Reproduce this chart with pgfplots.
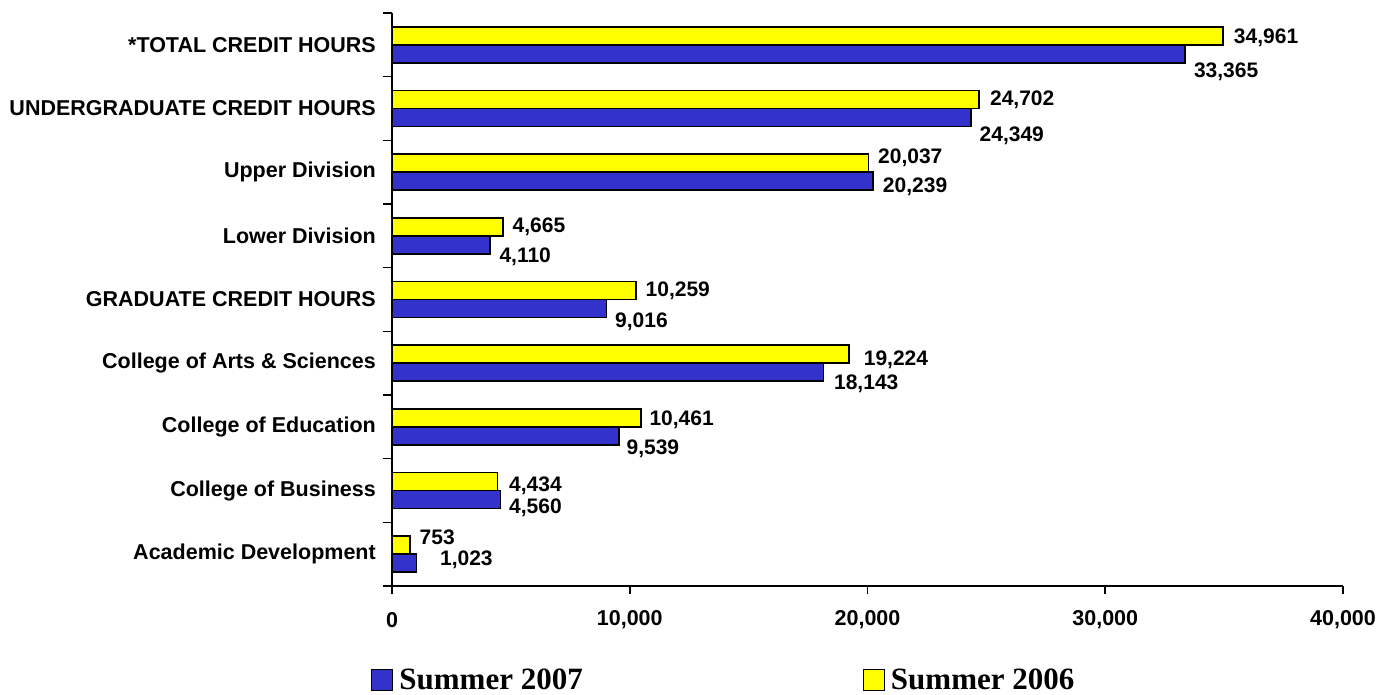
\documentclass[border=0pt]{standalone}
\usepackage{pgfplots}
\pgfplotsset{compat=1.18}
\usepackage{pgfplotstable}
\usepackage{fontspec}
\setmainfont{Liberation Sans}
\newfontfamily\tnr{Liberation Serif}

\definecolor{bar07}{HTML}{3333CC}
\definecolor{bar06}{HTML}{FFFF00}

% values, plus label offsets (pt) as Excel placed them
\pgfplotstableread{
y  s2007 s2006 dx07 dy07 dx06 dy06
8  33365 34961 8    -18  10   -2
7  24349 24702 8    -18  10   0
6  20239 20037 9    -5.5 9    5
5  4110  4665  9    -12  9    0
4  9016  10259 8    -13  9    0
3  18143 19224 10   -11.5 14  -5.5
2  9539  10461 7    -13  8    -1.5
1  4560  4434  8    -8   11   -4.5
0  1023  753   23   3    9    7.5
}\credits

\begin{document}
\begin{tikzpicture}
\begin{axis}[
    at={(0,0)}, anchor=south west,
    scale only axis,
    width=951pt, height=573pt,
    xbar,
    bar width=18pt,
    xmin=0, xmax=40000,
    ymin=-0.5, ymax=8.5,
    enlargelimits=false,
    axis x line*=bottom,
    axis y line*=left,
    axis line style={-, line width=1.6pt, black},
    tick align=outside,
    tick style={line width=1.6pt, black},
    major tick length=8pt,
    minor tick length=9pt,
    xtick={0,10000,20000,30000,40000},
    scaled x ticks=false,
    /pgf/number format/.cd, fixed, precision=0, 1000 sep={,}, assume math mode=true,
    /pgfplots/.cd,
    ytick={0,...,8},
    yticklabels={Academic Development, College of Business, College of Education,
      College of Arts \& Sciences, GRADUATE CREDIT HOURS, Lower Division,
      Upper Division, UNDERGRADUATE CREDIT HOURS, *TOTAL CREDIT HOURS},
    minor ytick={-0.5,0.5,...,8.5},
    major y tick style={draw=none},
    tick label style={font=\fontsize{21.5}{25}\selectfont\bfseries},
    yticklabel style={anchor=east, inner sep=0pt, xshift=-8pt},
    xticklabel style={anchor=center, inner sep=0pt, yshift=-26pt},
    nodes near coords,
    point meta=x,
    nodes near coords style={font=\fontsize{21}{25}\selectfont\bfseries, anchor=west, inner sep=0pt},
    legend columns=2,
    legend cell align=left,
    legend style={at={(-0.0221,-0.1640)}, anchor=west, draw=none, fill=none,
      inner sep=0pt, font=\tnr\fontsize{31}{36}\selectfont\bfseries,
      nodes={inner sep=0pt},
      /tikz/every odd column/.append style={column sep=6pt},
      /tikz/every even column/.append style={column sep=280pt}},
    legend image code/.code={\draw[#1, line width=1.2pt] (0pt,-10.5pt) rectangle (21pt,10.5pt);},
]
\addplot[draw=black, line width=1.6pt, fill=bar07, bar shift=-9pt,
    visualization depends on={\thisrow{dx07} \as \ldx},
    visualization depends on={\thisrow{dy07} \as \ldy},
    every node near coord/.append style={xshift={\ldx*1pt}, yshift={\ldy*1pt}}]
    table[x=s2007, y=y] {\credits};
\addlegendentry{Summer 2007}
\addplot[draw=black, line width=1.6pt, fill=bar06, bar shift=9pt,
    visualization depends on={\thisrow{dx06} \as \ldx},
    visualization depends on={\thisrow{dy06} \as \ldy},
    every node near coord/.append style={xshift={\ldx*1pt}, yshift={\ldy*1pt}}]
    table[x=s2006, y=y] {\credits};
\addlegendentry{Summer 2006}
\end{axis}
\path[use as bounding box] (-392pt,-108pt) rectangle (987pt,586pt);
\end{tikzpicture}
\end{document}
